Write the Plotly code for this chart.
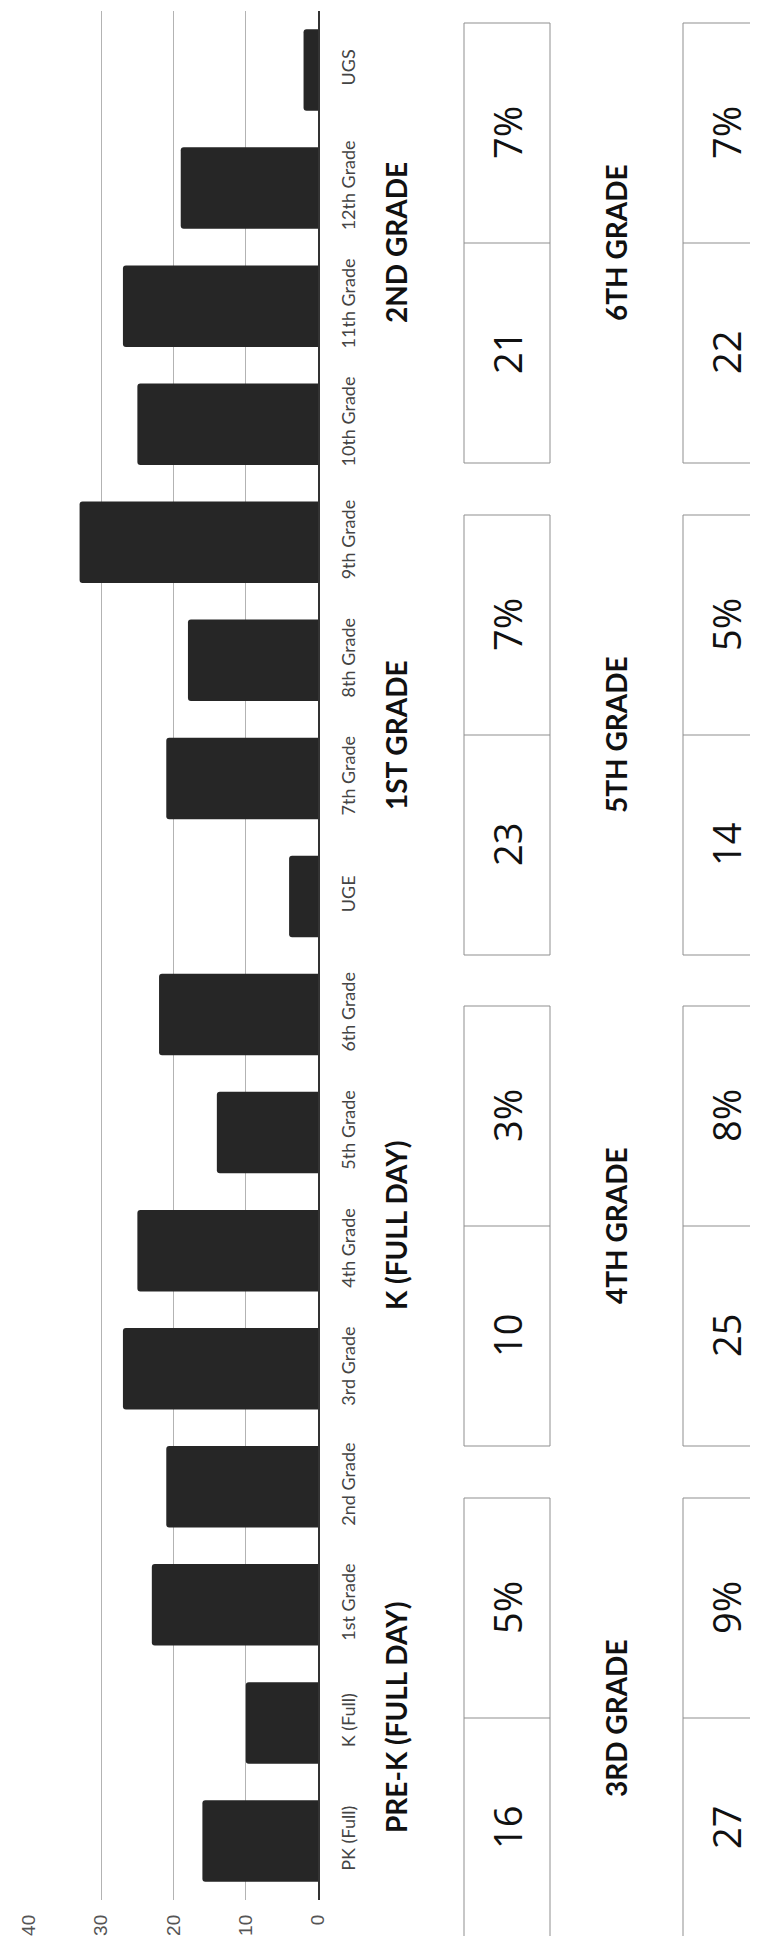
import plotly.graph_objects as go

# ---- data ----
categories = ["PK (Full)", "K (Full)", "1st Grade", "2nd Grade", "3rd Grade", "4th Grade",
              "5th Grade", "6th Grade", "UGE", "7th Grade", "8th Grade", "9th Grade",
              "10th Grade", "11th Grade", "12th Grade", "UGS"]
enrollment = [16, 10, 23, 21, 27, 25, 14, 22, 4, 21, 18, 33, 25, 27, 19, 2]
value_ticks = [0, 10, 20, 30, 40]

left_groups = ["PRE-K (FULL DAY)", "K (FULL DAY)", "1ST GRADE", "2ND GRADE"]
left_counts = [16, 10, 23, 21]
left_pcts = ["5%", "3%", "7%", "7%"]
right_groups = ["3RD GRADE", "4TH GRADE", "5TH GRADE", "6TH GRADE"]
right_counts = [27, 25, 14, 22]
right_pcts = ["9%", "8%", "5%", "7%"]

# ---- layout geometry (pixels) ----
W, H = 758, 1936
PL, PR, PT, PB = 21, 310, 3, 1892  # plot area edges


def px(x):
    return (x - PL) / (PR - PL)


def py(y):
    return (PB - y) / (PB - PT)


fig = go.Figure()
fig.add_trace(go.Bar(
    x=enrollment, y=categories, orientation="h",
    marker=dict(color="#262626", line=dict(width=0), cornerradius=3),
    hoverinfo="x+y",
))

shapes = []
annotations = []
group_centers = [1710, 1218, 727, 235]
box_h = 440
cols = [
    (left_groups, left_counts, left_pcts, 388, 456, 542),
    (right_groups, right_counts, right_pcts, 608, 675, 761),
]
for groups, counts, pcts, hx, bx0, bx1 in cols:
    for g, c, p, yc in zip(groups, counts, pcts, group_centers):
        annotations.append(dict(
            x=px(hx), y=py(yc), xref="paper", yref="paper", text=f"<b>{g}</b>",
            textangle=-90, showarrow=False, xanchor="center", yanchor="middle",
            font=dict(family="Lato, 'Open Sans', sans-serif", size=28, color="#111111"),
        ))
        shapes.append(dict(type="rect", xref="paper", yref="paper",
                           x0=px(bx0), x1=px(bx1), y0=py(yc - box_h / 2), y1=py(yc + box_h / 2),
                           line=dict(color="#8f8f8f", width=1), layer="above"))
        shapes.append(dict(type="line", xref="paper", yref="paper",
                           x0=px(bx0), x1=px(bx1), y0=py(yc), y1=py(yc),
                           line=dict(color="#8f8f8f", width=1), layer="above"))
        bxc = (bx0 + bx1) / 2
        annotations.append(dict(
            x=px(bxc), y=py(yc + box_h / 4), xref="paper", yref="paper", text=str(c),
            textangle=-90, showarrow=False, xanchor="center", yanchor="middle",
            font=dict(family="'Open Sans', Lato, sans-serif", size=38, color="#111111", weight=500),
        ))
        annotations.append(dict(
            x=px(bxc), y=py(yc - box_h / 4), xref="paper", yref="paper", text=p,
            textangle=-90, showarrow=False, xanchor="center", yanchor="middle",
            font=dict(family="'Open Sans', Lato, sans-serif", size=38, color="#111111", weight=500),
        ))

fig.update_layout(
    width=W, height=H,
    margin=dict(l=PL, r=W - PR, t=PT, b=H - PB, autoexpand=False),
    paper_bgcolor="white", plot_bgcolor="white",
    showlegend=False, bargap=0.31,
    shapes=shapes, annotations=annotations,
    xaxis=dict(
        range=[40, 0], tickvals=value_ticks, ticktext=[str(v) for v in value_ticks],
        tickangle=-90, showgrid=True, gridcolor="#b3b3b3", gridwidth=1,
        zeroline=False, showline=False, ticks="", ticklabelstandoff=10,
        tickfont=dict(family="'Liberation Sans', Arial, sans-serif", size=19, color="#555555"),
        fixedrange=True,
    ),
    yaxis=dict(
        categoryorder="array", categoryarray=categories, side="right",
        tickangle=-90, showgrid=False, showline=True, linecolor="#333333", linewidth=1.5,
        ticks="", ticklabelstandoff=14, range=[-0.5, 15.5],
        tickfont=dict(family="Lato, 'Open Sans', sans-serif", size=18, color="#444444"),
        fixedrange=True,
    ),
)

fig.write_html("out.html")
